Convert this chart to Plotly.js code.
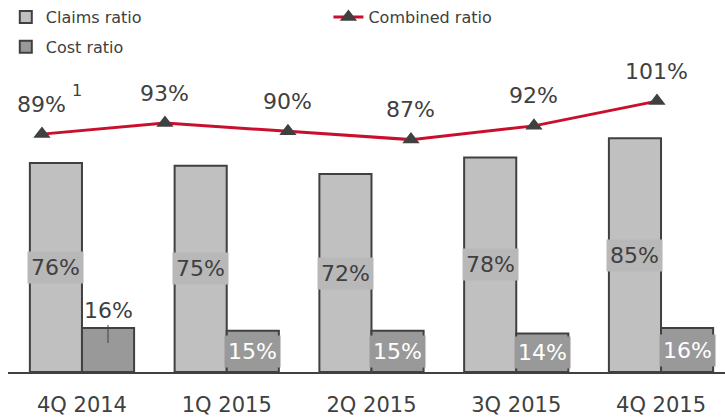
<!DOCTYPE html>
<html>
<head>
<meta charset="utf-8">
<script src="https://cdn.plot.ly/plotly-3.0.1.min.js"></script>
<style>html,body{margin:0;padding:0;background:#fff}#chart{width:725px;height:419px}</style>
</head>
<body>
<div id="chart"></div>
<script>
const categories = ['4Q 2014', '1Q 2015', '2Q 2015', '3Q 2015', '4Q 2015'];
const claimsRatio = [76, 75, 72, 78, 85];
const costRatio = [16, 15, 15, 14, 16];
const combinedPoints = ['p0', 'p1', 'p2', 'p3', 'p4', 'p5'];
const combinedRatio = [89, 93, 90, 87, 92, 101];

const textColor = '#404040';
const font = 'DejaVu Sans, Verdana, sans-serif';

const traces = [
  {
    type: 'bar', name: 'Claims ratio', x: categories, y: claimsRatio,
    marker: {color: '#c0c0c0', line: {color: '#404040', width: 2}},
    legend: 'legend', legendgroup: 'a', hoverinfo: 'skip'
  },
  {
    type: 'bar', name: 'Cost ratio', x: categories, y: costRatio,
    marker: {color: '#999999', line: {color: '#404040', width: 2}},
    legend: 'legend', legendgroup: 'b', hoverinfo: 'skip'
  },
  {
    type: 'scatter', mode: 'lines+markers', name: 'Combined ratio',
    x: combinedPoints.map((_, i) => i), y: combinedRatio, xaxis: 'x2', yaxis: 'y2',
    line: {color: '#c8102e', width: 3},
    marker: {symbol: 'triangle-up', size: 15, color: '#404040'},
    legend: 'legend2', hoverinfo: 'skip', cliponaxis: false
  }
];

const annotations = [];
categories.forEach((c, i) => {
  annotations.push({
    xref: 'x', yref: 'y', x: i - 0.18, y: claimsRatio[i] / 2, text: claimsRatio[i] + '%',
    showarrow: false, bgcolor: '#b8b8b8', borderpad: 3,
    font: {size: 22, color: textColor, family: font}
  });
  if (i === 0) {
    annotations.push({
      xref: 'x', yref: 'y', x: i + 0.18, y: costRatio[i] * 0.66, text: costRatio[i] + '%',
      showarrow: true, arrowhead: 0, arrowwidth: 1, arrowcolor: textColor, ax: 0, ay: -32,
      font: {size: 22, color: textColor, family: font}
    });
  } else {
    annotations.push({
      xref: 'x', yref: 'y', x: i + 0.18, y: costRatio[i] / 2, text: costRatio[i] + '%',
      showarrow: false, bgcolor: '#999999', borderpad: 3,
      font: {size: 22, color: '#ffffff', family: font}
    });
  }
});
combinedRatio.forEach((v, i) => {
  annotations.push({
    xref: 'x2', yref: 'y2', x: i, y: v, text: v + '%', showarrow: false,
    yshift: 30, font: {size: 22, color: textColor, family: font}
  });
});
annotations.push({
  xref: 'x2', yref: 'y2', x: 0, y: combinedRatio[0], text: '1', showarrow: false,
  xshift: 35, yshift: 44, font: {size: 16, color: textColor, family: font}
});

const layout = {
  width: 725, height: 419,
  margin: {l: 8, r: 0, t: 60, b: 47, autoexpand: false},
  paper_bgcolor: '#ffffff', plot_bgcolor: '#ffffff',
  font: {family: font, color: textColor},
  barmode: 'group', bargap: 0.28, bargroupgap: 0,
  showlegend: true,
  xaxis: {
    type: 'category', range: [-0.511, 4.442], showgrid: false, zeroline: false,
    showline: true, linecolor: '#404040', linewidth: 2, ticks: '', ticklabelstandoff: 13,
    tickangle: 0, automargin: false,
    tickfont: {size: 21, color: textColor, family: font}, fixedrange: true
  },
  yaxis: {range: [0, 113.45], visible: false, fixedrange: true},
  xaxis2: {overlaying: 'x', range: [-0.276, 5.553], visible: false, fixedrange: true},
  yaxis2: {overlaying: 'y', range: [2.5, 115.95], visible: false, fixedrange: true},
  legend: {
    xref: 'container', yref: 'container', x: 0.008, y: 1.01, xanchor: 'left', yanchor: 'top',
    orientation: 'v', tracegroupgap: 6, traceorder: 'grouped',
    font: {size: 16, color: textColor, family: font}, bgcolor: 'rgba(0,0,0,0)'
  },
  legend2: {
    xref: 'container', yref: 'container', x: 0.453, y: 1.01, xanchor: 'left', yanchor: 'top',
    font: {size: 16, color: textColor, family: font}, bgcolor: 'rgba(0,0,0,0)'
  },
  annotations: annotations
};

Plotly.newPlot('chart', traces, layout, {displayModeBar: false, staticPlot: true});
</script>
</body>
</html>
